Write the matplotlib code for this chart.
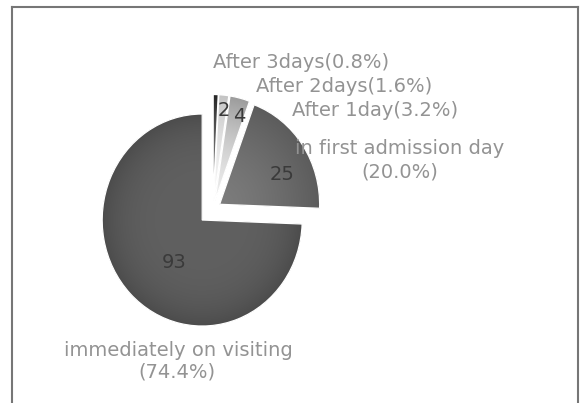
import numpy as np
import matplotlib
matplotlib.use("Agg")
import matplotlib.pyplot as plt
from matplotlib.lines import Line2D
from matplotlib.patches import Wedge
from matplotlib.colors import to_rgb

# Patients by timing of treatment start
categories = ["After 3days", "After 2days", "After 1day",
              "in first admission day", "immediately on visiting"]
counts = [1, 2, 4, 25, 93]

W, H = 580, 403
fig = plt.figure(figsize=(W / 100, H / 100), dpi=100)
ax = fig.add_axes([0, 0, 1, 1])

# pie centre and radii in pixels (slightly taller than wide)
CX, CY = 213.0, 209.0
RX, RY = 100.0, 106.0

explode = [0.08, 0.08, 0.08, 0.08, 0.15]
rim_colors = ["#262626", "#c4c4c4", "#9c9c9c", "#5c5c5c", "#4c4c4c"]
core_colors = ["#8a8a8a", "#f6f6f6", "#ececec", "#7c7c7c", "#606060"]
fade_power = [1.6, 1.6, 1.6, 1.4, 4.0]

wedges, _ = ax.pie(counts, startangle=90, counterclock=False,
                   explode=explode, radius=1.0, center=(0, 0),
                   colors=rim_colors,
                   wedgeprops=dict(edgecolor="none", linewidth=0))
ax.set_aspect("auto")
ax.axis("off")

# radial shading inside each slice
n = 300
for w, c_in, c_out, p in zip(wedges, core_colors, rim_colors, fade_power):
    cx, cy = w.center
    r = w.r
    xs = np.linspace(cx - r, cx + r, n)
    ys = np.linspace(cy - r, cy + r, n)
    gx, gy = np.meshgrid(xs, ys)
    t = np.clip(np.hypot(gx - cx, gy - cy) / r, 0, 1) ** p
    a = np.array(to_rgb(c_in))
    b = np.array(to_rgb(c_out))
    img = a[None, None, :] + (b - a)[None, None, :] * t[..., None]
    im = ax.imshow(img, extent=(cx - r, cx + r, cy - r, cy + r),
                   origin="lower", interpolation="bilinear", zorder=1.5,
                   aspect="auto")
    im.set_clip_path(w)
    ax.add_patch(Wedge(w.center, w.r, w.theta1, w.theta2, fill=False,
                       edgecolor="white", linewidth=0.9, zorder=3))
ax.set_xlim(-CX / RX, (W - CX) / RX)
ax.set_ylim(-(H - CY) / RY, CY / RY)


def fxy(px, py):
    return px / W, 1 - py / H


total = sum(counts)
pct = [f"({v / total * 100:.1f}%)" for v in counts]

label_color = "#939393"
fs = 14
# outer category labels
fig.text(*fxy(301, 63), f"{categories[0]}{pct[0]}", ha="center", va="center",
         fontsize=fs, color=label_color)
fig.text(*fxy(344, 87), f"{categories[1]}{pct[1]}", ha="center", va="center",
         fontsize=fs, color=label_color)
fig.text(*fxy(375, 110), f"{categories[2]}{pct[2]}", ha="center", va="center",
         fontsize=fs, color=label_color)
fig.text(*fxy(400, 148), categories[3], ha="center", va="center",
         fontsize=fs, color=label_color, zorder=5)
fig.text(*fxy(400, 172), pct[3], ha="center", va="center",
         fontsize=fs, color=label_color)
fig.text(*fxy(178, 350), categories[4], ha="center", va="center",
         fontsize=fs, color=label_color)
fig.text(*fxy(177, 372), pct[4], ha="center", va="center",
         fontsize=fs, color=label_color)

# value labels inside the slices
value_pos = {1: (224, 110), 2: (239, 116), 3: (282, 174), 4: (174, 263)}
for i, (px, py) in value_pos.items():
    fig.text(*fxy(px, py), str(counts[i]), ha="center", va="center",
             fontsize=14, color="#3a3a3a")

# panel border (open at the bottom)
frame_color = "#767676"
lw = 1.5
fig.add_artist(Line2D([11.8 / W, 11.8 / W], [0, 1 - 6.7 / H],
                      color=frame_color, linewidth=lw))
fig.add_artist(Line2D([11.8 / W, 578.3 / W], [1 - 6.7 / H, 1 - 6.7 / H],
                      color=frame_color, linewidth=lw))
fig.add_artist(Line2D([578.3 / W, 578.3 / W], [0, 1 - 6.7 / H],
                      color=frame_color, linewidth=lw))

fig.savefig("out.png", dpi=100, facecolor="white")
